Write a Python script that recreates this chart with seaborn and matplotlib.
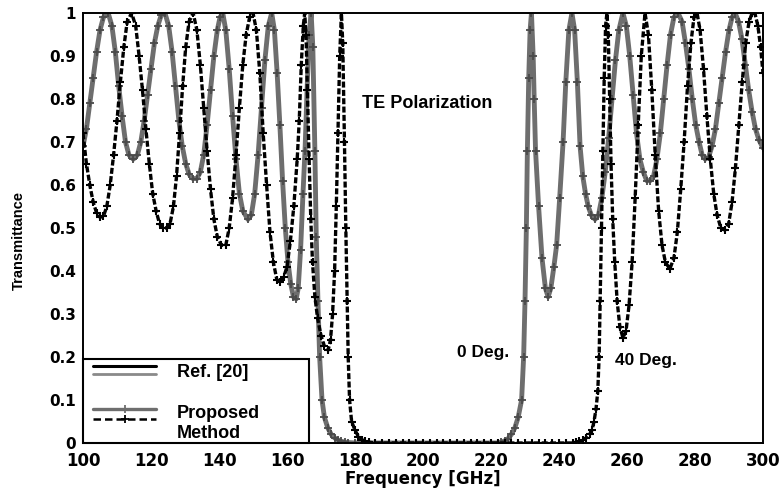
import matplotlib

matplotlib.use("Agg")
import matplotlib.pyplot as plt
import seaborn as sns
from matplotlib.legend_handler import HandlerBase
from matplotlib.lines import Line2D

# (frequency GHz, transmittance)
# 0 deg incidence (grey curve)
points_0deg = [
    (100, 0.69), (101, 0.73), (102, 0.79), (103, 0.85), (104, 0.91), (105, 0.96),
    (106, 0.99), (107.4, 1.0), (108.5, 0.97), (109.5, 0.91), (110.5, 0.83), (111.5, 0.76),
    (112.5, 0.70), (113.5, 0.67), (114.8, 0.66), (116, 0.67), (117, 0.70), (118, 0.75),
    (119, 0.81), (120, 0.87), (121, 0.93), (122, 0.97), (123, 0.995), (124.1, 1.0),
    (125.2, 0.97), (126.2, 0.91), (127.2, 0.83), (128.2, 0.75), (129.2, 0.69), (130.2, 0.65),
    (131.2, 0.625), (132.3, 0.615), (133.5, 0.615), (134.5, 0.63), (135.5, 0.67),
    (136.5, 0.74), (137.5, 0.82), (138.5, 0.90), (139.5, 0.96), (140.3, 0.99), (141.1, 1.0),
    (142, 0.96), (143, 0.87), (144, 0.76), (145, 0.66), (146, 0.58), (147, 0.54),
    (148.5, 0.52), (149.5, 0.53), (150.5, 0.58), (151.5, 0.67), (152.5, 0.78), (153.5, 0.89),
    (154.5, 0.97), (155.5, 1.0), (156.3, 0.96), (157.1, 0.86), (157.9, 0.74), (158.7, 0.61),
    (159.5, 0.50), (160.3, 0.42), (161.1, 0.37), (161.9, 0.34), (162.7, 0.335),
    (163.3, 0.36), (164.0, 0.45), (164.7, 0.58), (165.3, 0.68), (165.9, 0.82), (166.5, 0.95),
    (167.1, 1.0), (167.6, 0.92), (168.2, 0.68), (168.6, 0.48), (169.1, 0.33), (169.6, 0.20),
    (170.3, 0.10), (171, 0.06), (172, 0.035), (173, 0.02), (174, 0.012), (175, 0.007),
    (176, 0.004), (177, 0.002), (178, 0.001), (180, 0), (182, 0), (184, 0), (186, 0),
    (188, 0), (190, 0), (192, 0), (194, 0), (196, 0), (198, 0), (200, 0), (202, 0),
    (204, 0), (206, 0), (208, 0), (210, 0), (212, 0), (214, 0), (216, 0), (218, 0),
    (220, 0), (222, 0), (223, 0.002), (224, 0.005), (225, 0.01), (226, 0.02), (227, 0.035),
    (228, 0.06), (229, 0.10), (229.6, 0.20), (230.0, 0.33), (230.4, 0.50), (230.7, 0.68),
    (231.1, 0.85), (231.5, 0.96), (231.9, 1.0), (232.4, 0.90), (232.7, 0.80), (233.1, 0.68),
    (234, 0.55), (235, 0.43), (236, 0.36), (236.8, 0.34), (237.6, 0.36), (238.5, 0.41),
    (239.3, 0.46), (240.2, 0.57), (241.2, 0.70), (242.0, 0.84), (242.9, 0.96), (243.8, 1.0),
    (244.6, 0.96), (245.4, 0.84), (246.2, 0.69), (247.0, 0.62), (247.8, 0.58), (248.6, 0.55),
    (249.5, 0.53), (250.6, 0.52), (251.6, 0.53), (252.6, 0.57), (253.6, 0.63), (254.6, 0.71),
    (255.6, 0.80), (256.6, 0.89), (257.6, 0.96), (258.8, 1.0), (259.8, 0.97), (260.8, 0.90),
    (261.8, 0.81), (262.8, 0.72), (263.8, 0.66), (264.8, 0.63), (265.8, 0.61), (266.8, 0.61),
    (267.8, 0.62), (268.8, 0.66), (269.8, 0.72), (270.8, 0.80), (271.8, 0.88), (272.8, 0.95),
    (273.8, 0.99), (275, 1.0), (276.2, 0.98), (277.2, 0.93), (278.2, 0.87), (279.2, 0.80),
    (280.2, 0.74), (281.2, 0.70), (282.1, 0.67), (283, 0.66), (284, 0.665), (285, 0.69),
    (286, 0.73), (287, 0.79), (288, 0.85), (289, 0.91), (290, 0.96), (290.9, 0.99),
    (291.8, 1.0), (292.8, 0.98), (293.8, 0.94), (294.8, 0.88), (295.8, 0.82), (296.8, 0.77),
    (297.8, 0.73), (298.8, 0.705), (300, 0.686),
]

# 40 deg incidence (black dashed curve)
points_40deg = [
    (100, 0.72), (101, 0.65), (102, 0.60), (103, 0.56), (104, 0.535), (105, 0.525),
    (106, 0.527), (107, 0.55), (108, 0.60), (109, 0.67), (110, 0.75), (111, 0.84),
    (112, 0.92), (113, 0.98), (114.3, 1.0), (115.5, 0.97), (116.5, 0.90), (117.5, 0.82),
    (118.5, 0.73), (119.5, 0.65), (120.5, 0.58), (121.5, 0.54), (122.5, 0.51), (123.5, 0.50),
    (124.6, 0.50), (125.6, 0.51), (126.6, 0.55), (127.5, 0.62), (128.4, 0.72), (129.3, 0.83),
    (130.2, 0.92), (131.2, 0.98), (132.4, 1.0), (133.5, 0.96), (134.5, 0.88), (135.5, 0.78),
    (136.5, 0.68), (137.5, 0.59), (138.5, 0.52), (139.5, 0.48), (140.7, 0.46), (142, 0.46),
    (143, 0.50), (144, 0.57), (145, 0.67), (146, 0.78), (147, 0.88), (148, 0.95),
    (149, 0.99), (150, 1.0), (151, 0.96), (152, 0.86), (153, 0.72), (154, 0.60), (155, 0.49),
    (156, 0.42), (157, 0.38), (157.9, 0.374), (159, 0.385), (160, 0.41), (161, 0.47),
    (162, 0.55), (163, 0.66), (163.6, 0.75), (164.2, 0.88), (164.8, 0.97), (165.2, 1.0),
    (165.6, 0.95), (166.0, 0.82), (166.5, 0.66), (167.0, 0.52), (167.5, 0.42), (168.2, 0.34),
    (169, 0.29), (170, 0.25), (171, 0.225), (172.1, 0.216), (172.8, 0.24), (173.4, 0.30),
    (174.0, 0.40), (174.5, 0.55), (175.0, 0.72), (175.5, 0.90), (176.0, 1.0), (176.4, 0.93),
    (176.9, 0.70), (177.3, 0.50), (177.7, 0.33), (178.0, 0.20), (178.4, 0.10), (179, 0.05),
    (180, 0.03), (181, 0.015), (182, 0.008), (183, 0.004), (184, 0.002), (186, 0),
    (188, 0), (190, 0), (192, 0), (194, 0), (196, 0), (198, 0), (200, 0), (202, 0),
    (204, 0), (206, 0), (208, 0), (210, 0), (212, 0), (214, 0), (216, 0), (218, 0),
    (220, 0), (222, 0), (224, 0), (226, 0), (228, 0), (230, 0), (232, 0), (234, 0),
    (236, 0), (238, 0), (240, 0), (242, 0), (244, 0), (245, 0.002), (246, 0.004),
    (247, 0.007), (248, 0.012), (249, 0.02), (249.7, 0.03), (250.3, 0.05), (250.9, 0.08),
    (251.4, 0.12), (251.8, 0.20), (252.1, 0.33), (252.5, 0.50), (252.9, 0.68), (253.3, 0.85),
    (253.7, 0.97), (254.1, 1.0), (254.5, 0.95), (254.9, 0.80), (255.3, 0.65), (255.8, 0.52),
    (256.4, 0.42), (257.1, 0.33), (257.9, 0.27), (258.8, 0.245), (259.7, 0.26), (260.6, 0.32),
    (261.5, 0.42), (262.4, 0.57), (263.3, 0.74), (264.2, 0.90), (265.3, 1.0), (266.3, 0.95),
    (267.3, 0.82), (268.3, 0.67), (269.3, 0.54), (270.3, 0.46), (271.3, 0.42), (272.6, 0.405),
    (273.8, 0.43), (274.8, 0.49), (275.8, 0.59), (276.8, 0.70), (277.8, 0.83), (278.8, 0.93),
    (279.7, 0.99), (280.6, 1.0), (281.5, 0.96), (282.5, 0.87), (283.5, 0.76), (284.5, 0.66),
    (285.5, 0.58), (286.5, 0.53), (287.6, 0.50), (288.8, 0.495), (289.9, 0.51), (290.9, 0.56),
    (291.9, 0.64), (292.9, 0.74), (293.9, 0.84), (294.9, 0.93), (295.9, 0.98), (296.8, 1.0),
    (297.6, 1.0), (298.5, 0.97), (299.3, 0.92), (300, 0.86),
]

freq_0deg = [f for f, _ in points_0deg]
trans_0deg = [t for _, t in points_0deg]
freq_40deg = [f for f, _ in points_40deg]
trans_40deg = [t for _, t in points_40deg]

x_ticks = [100, 120, 140, 160, 180, 200, 220, 240, 260, 280, 300]
y_ticks = [0, 0.1, 0.2, 0.3, 0.4, 0.5, 0.6, 0.7, 0.8, 0.9, 1]
y_tick_labels = ["0", "0.1", "0.2", "0.3", "0.4", "0.5", "0.6", "0.7", "0.8", "0.9", "1"]

GRAY = "#6e6e6e"


class StackedLines(HandlerBase):
    """Legend handler drawing the lines of a tuple one above the other."""

    def __init__(self, offsets, **kwargs):
        super().__init__(**kwargs)
        self.offsets = offsets  # points above the text baseline

    def create_artists(self, legend, orig_handle, xdescent, ydescent, width, height,
                       fontsize, trans):
        x0, x1 = -xdescent + 6.5, -xdescent + width
        artists = []
        for line, y in zip(orig_handle, self.offsets):
            seg = Line2D([x0, x1], [y, y])
            seg.update_from(line)
            seg.set_marker("None")
            seg.set_transform(trans)
            artists.append(seg)
            if line.get_marker() not in (None, "None", ""):
                mk = Line2D([(x0 + x1) / 2], [y])
                mk.update_from(line)
                mk.set_linestyle("None")
                mk.set_transform(trans)
                artists.append(mk)
        return artists


sns.set_style("white")
plt.rcParams["font.family"] = ["Liberation Sans", "DejaVu Sans"]
plt.rcParams["text.color"] = "black"
plt.rcParams["axes.labelcolor"] = "black"

fig = plt.figure(figsize=(7.83, 4.95), dpi=100)
ax = fig.add_axes([83 / 783, 52 / 495, 680 / 783, 430 / 495])

sns.lineplot(
    x=freq_0deg, y=trans_0deg, ax=ax, sort=False, estimator=None, errorbar=None,
    legend=False, color=GRAY, linewidth=3.5, marker="+", markersize=6,
    markeredgewidth=1.3, markeredgecolor="#4a4a4a",
)
sns.lineplot(
    x=freq_40deg, y=trans_40deg, ax=ax, sort=False, estimator=None, errorbar=None,
    legend=False, color="black", linewidth=2.4, linestyle=(0, (1.8, 0.7)), marker="+",
    markersize=6, markeredgewidth=1.5, markeredgecolor="black",
)

ax.set_xlim(100, 300)
ax.set_ylim(0, 1)
ax.set_xticks(x_ticks, labels=[str(v) for v in x_ticks], fontfamily="DejaVu Sans",
              fontweight="bold", fontsize=12)
ax.set_yticks(y_ticks, labels=y_tick_labels, fontfamily="DejaVu Sans",
              fontweight="bold", fontsize=11)
ax.tick_params(direction="in", length=5, width=1.5, top=False, right=False,
               colors="black")
ax.tick_params(axis="x", pad=6.5)
ax.tick_params(axis="y", pad=5)
for spine in ax.spines.values():
    spine.set_linewidth(1.4)
    spine.set_color("black")

ax.set_xlabel("Frequency [GHz]", fontfamily="DejaVu Sans", fontweight="bold",
              fontsize=12, labelpad=0)
ax.set_ylabel("Transmittance", fontfamily=["Liberation Sans Narrow", "Liberation Sans"],
              fontweight="bold", fontsize=10.5)
ax.yaxis.set_label_coords(-0.084, 0.472)

ax.text(182.1, 0.79, "TE Polarization", fontsize=13, fontweight="bold", va="center")
ax.text(210, 0.21, "0 Deg.", fontsize=12.5, fontweight="bold", va="center")
ax.text(256.5, 0.193, "40 Deg.", fontsize=12.5, fontweight="bold", va="center")

ref_black = Line2D([], [], color="black", linewidth=2.2)
ref_gray = Line2D([], [], color="#8a8a8a", linewidth=2.0)
prop_gray = Line2D([], [], color=GRAY, linewidth=2.4, marker="+", markersize=6,
                   markeredgewidth=1.3)
prop_black = Line2D([], [], color="black", linewidth=1.8, linestyle=(0, (3, 1.6)),
                    marker="+", markersize=6, markeredgewidth=1.3)
ref_handle = (ref_black, ref_gray)
prop_handle = (prop_gray, prop_black)

leg = ax.legend(
    [ref_handle, prop_handle], ["Ref. [20]", "Proposed\nMethod"],
    handler_map={ref_handle: StackedLines([7.6, 1.8]),
                 prop_handle: StackedLines([15.5, 8.3])},
    loc="lower left", bbox_to_anchor=(0, 0, 0.3324, 0.2), mode="expand",
    borderaxespad=0, borderpad=0.06, labelspacing=1.35, handlelength=4.0,
    handleheight=1.4, handletextpad=1.15, fancybox=False, framealpha=1,
    edgecolor="black", prop=dict(family="Liberation Sans", weight="bold", size=13),
)
leg.get_frame().set_linewidth(1.5)

fig.savefig("out.png", dpi=100)
plt.close(fig)
